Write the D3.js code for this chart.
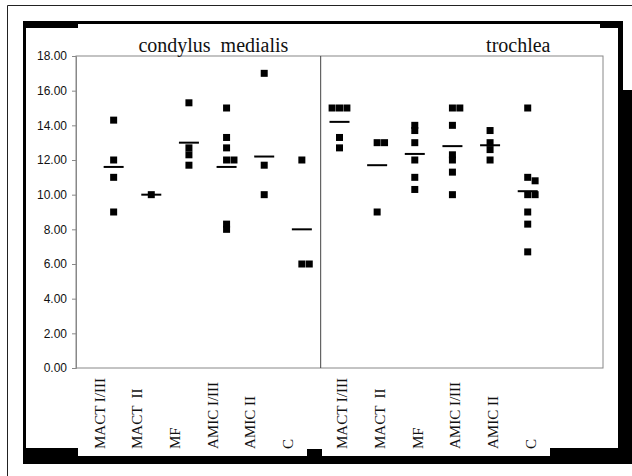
<!DOCTYPE html>
<html>
<head>
<meta charset="utf-8">
<script src="https://cdn.jsdelivr.net/npm/d3@7"></script>
<style>
  body { margin: 0; background: #fff; }
  svg { display: block; }
  .serif { font-family: "Liberation Serif", "Times New Roman", serif; white-space: pre; }
  .yaxis text { font-family: "Liberation Sans", Arial, sans-serif; font-size: 12px; fill: #111; }
  .yaxis path, .yaxis line { stroke: #888; }
</style>
</head>
<body>
<svg width="632" height="476"></svg>
<script>
// categories shown under each panel
const categories = ["MACT I/III", "MACT  II", "MF", "AMIC I/III", "AMIC II", "C"];
const panelTitles = ["condylus  medialis", "trochlea"];

// individual scores, one list per category
const medialisValues = [
  [14.3, 12, 11, 9],
  [10],
  [15.3, 12.7, 12.3, 11.7],
  [15, 13.3, 12.7, 12, 12, 8.3, 8.0],
  [17, 11.7, 10],
  [12, 6, 6]
];
const medialisMeans = [11.6, 10, 13.0, 11.6, 12.2, 8.0];

const trochleaValues = [
  [15, 15, 15, 13.3, 12.7],
  [13, 13, 9],
  [14, 13.7, 13, 12, 11, 10.3],
  [15, 15, 14, 12.3, 12, 11.3, 10],
  [13.7, 13, 12.6, 12],
  [15, 11, 10.8, 10, 10, 9, 8.3, 6.7]
];
const trochleaMeans = [14.2, 11.7, 12.35, 12.8, 12.85, 10.2];

const yTicks = [0, 2, 4, 6, 8, 10, 12, 14, 16, 18];

const svg = d3.select("svg");

// scanned-page frame
svg.append("path")
  .attr("d", "M7.5,476 V5.5 H632")
  .attr("fill", "none").attr("stroke", "#222");
svg.append("path")
  .attr("fill-rule", "evenodd")
  .attr("fill", "#000")
  .attr("d",
    "M23,21 H623 V90 H632 V464 H23 Z " +
    "M26,28 H78 V24 H600 V28 H618 V448 H550 V456 H322 V449 H307 V456 H78 V448 H26 Z");

const x = d3.scaleLinear().domain([0, 14]).range([76, 603]);
const y = d3.scaleLinear().domain([0, 18]).range([368, 56]);

// plot frame
svg.append("rect")
  .attr("x", x(0)).attr("y", y(18))
  .attr("width", x(14) - x(0)).attr("height", y(0) - y(18))
  .attr("fill", "none").attr("stroke", "#888");

svg.append("line")
  .attr("x1", x(6.5)).attr("x2", x(6.5))
  .attr("y1", y(18)).attr("y2", y(0))
  .attr("stroke", "#444");

svg.append("g")
  .attr("class", "yaxis")
  .attr("transform", `translate(${x(0)},0)`)
  .call(d3.axisLeft(y).tickValues(yTicks).tickFormat(d3.format(".2f")).tickSize(4).tickPadding(5));

const panels = [
  { title: panelTitles[0], values: medialisValues, means: medialisMeans, start: 1, titleAt: 3.65, labelShift: -0.38 },
  { title: panelTitles[1], values: trochleaValues, means: trochleaMeans, start: 7, titleAt: 11.75, labelShift: 0.07 }
];

const markSize = 7;
const markGap = 7.4;

// place near-equal values side by side
function spread(values) {
  const sorted = values.slice().sort((a, b) => b - a);
  const groups = [];
  sorted.forEach(v => {
    const g = groups[groups.length - 1];
    if (g && Math.abs(g[0] - v) < 0.25) g.push(v); else groups.push([v]);
  });
  const out = [];
  groups.forEach(g => {
    const base = Math.floor((g.length - 1) / 2);
    g.forEach((v, k) => out.push({ v, k: k - base }));
  });
  return out;
}

panels.forEach(p => {
  svg.append("text")
    .attr("class", "serif")
    .attr("x", x(p.titleAt)).attr("y", 52)
    .attr("text-anchor", "middle")
    .attr("font-size", 20)
    .attr("fill", "#111")
    .text(p.title);

  const g = svg.append("g");
  categories.forEach((cat, i) => {
    const cx = x(p.start + i);
    g.selectAll(null)
      .data(spread(p.values[i]))
      .enter()
      .append("rect")
      .attr("x", d => cx + d.k * markGap - markSize / 2)
      .attr("y", d => y(d.v) - markSize / 2)
      .attr("width", markSize)
      .attr("height", markSize)
      .attr("fill", "#000");

    g.append("line")
      .attr("x1", cx - 10).attr("x2", cx + 10)
      .attr("y1", y(p.means[i])).attr("y2", y(p.means[i]))
      .attr("stroke", "#000").attr("stroke-width", 2);

    const lx = x(p.start + i + p.labelShift);
    svg.append("text")
      .attr("class", "serif")
      .attr("transform", `translate(${lx},449) rotate(-90)`)
      .attr("dy", "0.35em")
      .attr("font-size", 15)
      .attr("fill", "#111")
      .text(cat);
  });
});
</script>
</body>
</html>
